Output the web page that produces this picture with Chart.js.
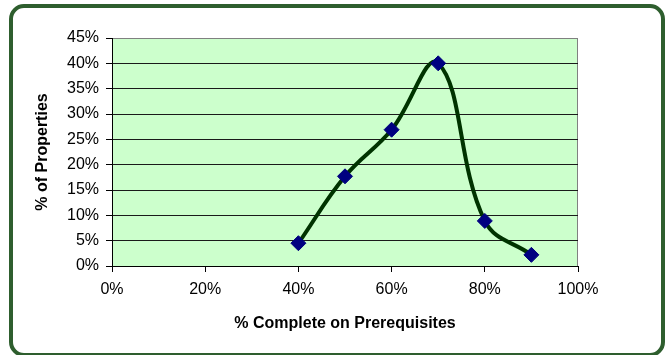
<!DOCTYPE html>
<html>
<head>
<meta charset="utf-8">
<script src="https://cdn.jsdelivr.net/npm/chart.js@4/dist/chart.umd.min.js"></script>
<style>
  html, body { margin: 0; padding: 0; background: #ffffff; }
  #wrap { position: relative; width: 666px; height: 355px; overflow: hidden; }
  #frame { position: absolute; left: 9px; top: 4px; width: 656px; height: 353px;
           box-sizing: border-box; border: 4px solid #2e5e2e; border-radius: 15px; pointer-events: none; }
  canvas { position: absolute; left: 0; top: 0; }
</style>
</head>
<body>
<div id="wrap">
  <canvas id="c" width="666" height="355"></canvas>
  <div id="frame"></div>
</div>
<script>
// Data
const completePct = [40, 50, 60, 70, 80, 90];          // % Complete on Prerequisites
const propertiesPct = [4.5, 17.7, 26.9, 40, 8.9, 2.2];  // % of Properties
const xTickValues = [0, 20, 40, 60, 80, 100];
const yTickValues = [0, 5, 10, 15, 20, 25, 30, 35, 40, 45];
const xTitle = '% Complete on Prerequisites';
const yTitle = '% of Properties';

const points = completePct.map((x, i) => ({ x: x, y: propertiesPct[i] }));
const FONT = '"Liberation Sans", Arial, sans-serif';

const plotBg = {
  id: 'plotBg',
  beforeDraw(chart) {
    const a = chart.chartArea, ctx = chart.ctx;
    ctx.save();
    ctx.fillStyle = '#ccffcc';
    ctx.fillRect(a.left, a.top, a.right - a.left, a.bottom - a.top);
    ctx.strokeStyle = '#808080';
    ctx.lineWidth = 1;
    ctx.strokeRect(a.left + 0.5, a.top + 0.5, a.right - a.left - 1, a.bottom - a.top);
    ctx.restore();
  }
};

new Chart(document.getElementById('c'), {
  type: 'scatter',
  data: {
    datasets: [{
      data: points,
      showLine: true,
      borderColor: '#003300',
      borderWidth: 4,
      tension: 0.4,
      pointStyle: 'rectRot',
      pointRadius: 7.5,
      pointBackgroundColor: '#000080',
      pointBorderColor: '#000080',
      pointBorderWidth: 1
    }]
  },
  options: {
    responsive: false,
    animation: false,
    devicePixelRatio: 1,
    layout: { padding: { left: 33, top: 38, right: 88, bottom: 22 } },
    plugins: { legend: { display: false }, tooltip: { enabled: false } },
    scales: {
      x: {
        type: 'linear', min: 0, max: 100,
        afterBuildTicks: s => { s.ticks = xTickValues.map(v => ({ value: v })); },
        afterFit: s => { s.height = 355 - 22 - 266; },
        ticks: { callback: v => v + '%', color: '#000', padding: 8, maxRotation: 0,
                 font: { family: FONT, size: 16 } },
        grid: { drawOnChartArea: false, drawTicks: true, tickLength: 6, tickColor: '#000' },
        border: { display: true, color: '#000', width: 1 },
        title: { display: true, text: xTitle, color: '#000', padding: 0,
                 font: { family: FONT, size: 16, weight: 'bold' } }
      },
      y: {
        type: 'linear', min: 0, max: 45,
        afterBuildTicks: s => { s.ticks = yTickValues.map(v => ({ value: v })); },
        afterFit: s => { s.width = 112 - 33; },
        ticks: { callback: v => v + '%', color: '#000', padding: 7,
                 font: { family: FONT, size: 16 } },
        grid: { color: ctx => (ctx.tick && ctx.tick.value === 45) ? '#808080' : '#1a1a1a',
                lineWidth: 1, tickLength: 6, tickColor: '#000' },
        border: { display: true, color: '#000', width: 1 },
        title: { display: true, text: yTitle, color: '#000', padding: 0,
                 font: { family: FONT, size: 16, weight: 'bold' } }
      }
    }
  },
  plugins: [plotBg]
});
</script>
</body>
</html>
